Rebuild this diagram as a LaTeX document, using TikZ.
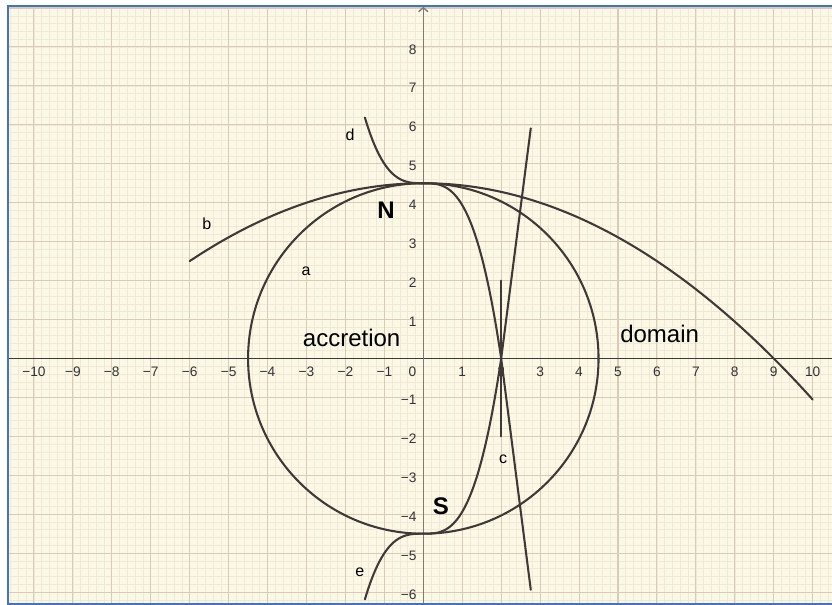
\documentclass[tikz,border=0pt]{standalone}
\usepackage{fontspec}
\setmainfont{Liberation Sans}
\usetikzlibrary{arrows.meta}
\definecolor{bg}{HTML}{FCF8E6}
\definecolor{majorgrid}{HTML}{D8CCB9}
\definecolor{minorgrid}{HTML}{F1E9D7}
\definecolor{curvecol}{HTML}{3E3934}
\definecolor{framecol}{HTML}{4472C4}
\definecolor{ticklab}{HTML}{333333}
\definecolor{xaxiscol}{HTML}{3A3A3A}
\definecolor{yaxiscol}{HTML}{7E7A74}
\begin{document}
\begin{tikzpicture}[x=29.205pt,y=29.205pt,
  curvestyle/.style={draw=curvecol, line width=1.55pt, line cap=round, line join=round},
  ticklabel/.style={font=\fontsize{10.3}{11}\selectfont, text=ticklab, inner sep=0pt},
  biglabel/.style={font=\fontsize{18}{20}\selectfont, text=black, inner sep=0pt, anchor=base},
  boldlabel/.style={font=\fontsize{18}{20}\selectfont\bfseries, text=black, inner sep=0pt, anchor=base},
  smalllabel/.style={font=\fontsize{12}{14}\selectfont, text=black, inner sep=0pt, anchor=base},
  framestyle/.style={draw=framecol, line width=1.9pt}
]
\useasboundingbox (-10.871,-6.330) rectangle (10.496,9.206);
\fill[white] (-10.871,-6.330) rectangle (10.496,9.206);
\fill[bg] (-10.665,-6.304) rectangle (10.496,9.052);
\begin{scope}
  \clip (-10.665,-6.304) rectangle (10.496,9.052);
  \draw[minorgrid, line width=0.45pt, step=0.2] (-11,-7) grid (11,10);
  \draw[majorgrid, line width=0.8pt, step=1] (-11,-7) grid (11,10);
\end{scope}
% axes
\coordinate (xl) at (-10.665,0);
\coordinate (xr) at (10.496,0);
\coordinate (yb) at (0,-6.304);
\coordinate (yt) at (0,9.03);
\draw[xaxiscol, line width=1pt] (xl) -- (xr);
\draw[yaxiscol, line width=1pt, -{Straight Barb[length=3pt,width=7pt]}] (yb) -- (yt);
% tick labels
\foreach \i in {-10,...,-1} {
  \node[ticklabel] (tx\i) at (\i,-0.35) {−\the\numexpr-\i\relax};
}
\foreach \i in {1,...,10} {
  \node[ticklabel] (tx\i) at (\i,-0.35) {\i};
}
\node[ticklabel] (tx0) at (-0.28,-0.35) {0};
\foreach \i in {1,...,8} {
  \node[ticklabel, anchor=east] (ty\i) at (-0.17,\i-0.06) {\i};
}
\foreach \i in {-6,...,-1} {
  \node[ticklabel, anchor=east] (ty\i) at (-0.17,\i-0.06) {−\the\numexpr-\i\relax};
}
% curves
\coordinate (O) at (0,0);
\draw[curvestyle] (O) circle (4.5);
\draw[curvestyle] plot[domain=-6:10, samples=120] (\x,{4.5-\x*\x/18});
\coordinate (dend) at (2.76,-5.94);
\coordinate (eend) at (2.76,5.91);
\draw[curvestyle] plot[domain=-1.5:0, samples=40] (\x,{4.5-0.5*\x*\x*\x})
   -- plot[domain=0:2, samples=60] (\x,{4.5-0.5625*\x*\x*\x}) -- (dend);
\draw[curvestyle] plot[domain=-1.5:0, samples=40] (\x,{-4.5+0.5*\x*\x*\x})
   -- plot[domain=0:2, samples=60] (\x,{-4.5+0.5625*\x*\x*\x}) -- (eend);
\coordinate (ctop) at (2,2);
\coordinate (cbot) at (2,-2);
\draw[curvestyle] (ctop) -- (cbot);
% frame (top, left, bottom)
\coordinate (f1) at (10.496,9.052);
\coordinate (f2) at (-10.665,9.052);
\coordinate (f3) at (-10.665,-6.304);
\coordinate (f4) at (10.496,-6.304);
\draw[framestyle] (f1) -- (f2) -- (f3) -- (f4);
% labels
\node[smalllabel] (la) at (-3.01,2.14) {a};
\node[smalllabel] (lb) at (-5.56,3.32) {b};
\node[smalllabel] (lc) at (2.05,-2.71) {c};
\node[smalllabel] (ld) at (-1.88,5.59) {d};
\node[smalllabel] (le) at (-1.63,-5.60) {e};
\node[boldlabel] (lN) at (-0.96,3.60) {N};
\node[boldlabel] (lS) at (0.45,-4.02) {S};
\node[biglabel] (lacc) at (-1.84,0.32) {accretion};
\node[biglabel] (ldom) at (6.07,0.41) {domain};
\end{tikzpicture}
\end{document}
